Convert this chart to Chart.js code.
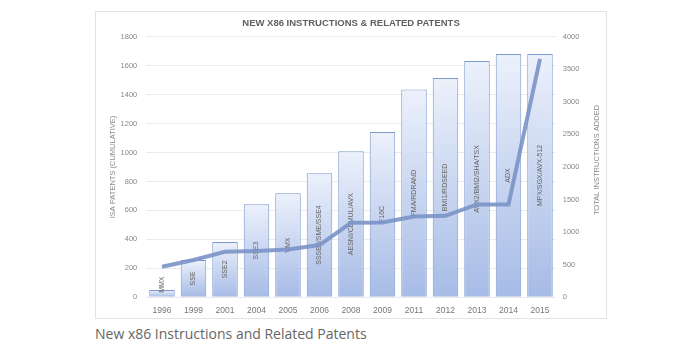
<!DOCTYPE html>
<html>
<head>
<meta charset="utf-8">
<script src="https://cdn.jsdelivr.net/npm/chart.js@4/dist/chart.umd.min.js"></script>
<style>
  html, body { margin: 0; padding: 0; background: #fff; width: 700px; height: 357px; overflow: hidden; }
  #box { position: absolute; left: 95px; top: 11px; width: 510px; height: 306px; border: 1px solid #e3e3e3; }
  #box canvas { display: block; }
  #caption { position: absolute; left: 95px; top: 324px; font-family: "Open Sans", sans-serif; font-size: 14px; color: #666; white-space: nowrap; }
</style>
</head>
<body>
<div id="box"><canvas id="c" width="510" height="306"></canvas></div>
<div id="caption">New x86 Instructions and Related Patents</div>
<script>
const years = ["1996","1999","2001","2004","2005","2006","2008","2009","2011","2012","2013","2014","2015"];
const extensions = ["MMX","SSE","SSE2","SSE3","VMX","SSSE3/SME/SSE4","AESNI/CLMUL/AVX","F16C","FMA/RDRAND","BMI1/RDSEED","AVX2/BMI2/SHA/TSX","ADX","MPX/SGX/AVX-512"];
const isaPatents = [50, 257, 382, 642, 718, 857, 1008, 1142, 1436, 1514, 1632, 1680, 1680];
const totalInstructions = [470, 572, 700, 710, 733, 802, 1144, 1150, 1240, 1250, 1426, 1426, 3660];
const leftTicks = [0, 200, 400, 600, 800, 1000, 1200, 1400, 1600, 1800];
const rightTicks = [0, 500, 1000, 1500, 2000, 2500, 3000, 3500, 4000];

const FONT = "'Liberation Sans', Arial, sans-serif";

function barFill(ctx) {
  const chart = ctx.chart;
  const y = chart.scales.y;
  if (!y || ctx.type !== 'data') return '#c4d3f0';
  const top = y.getPixelForValue(ctx.raw);
  const base = y.getPixelForValue(0);
  if (!isFinite(top) || !isFinite(base) || base - top < 1) return '#c4d3f0';
  const g = chart.ctx.createLinearGradient(0, top, 0, base);
  g.addColorStop(0, '#ecf1fb');
  g.addColorStop(1, '#a6bbe6');
  return g;
}

const textPlugin = {
  id: 'textBits',
  afterDraw(chart) {
    const c = chart.ctx;
    const area = chart.chartArea;
    c.save();
    c.font = "bold 9.5px " + FONT;
    c.fillStyle = '#606060';
    c.textAlign = 'center';
    c.textBaseline = 'middle';
    c.fillText('NEW X86 INSTRUCTIONS & RELATED PATENTS', 255, 11.5);
    // right axis title, reading bottom-to-top
    c.font = "7.5px " + FONT;
    c.fillStyle = '#8a8a8a';
    c.translate(501, (area.top + area.bottom) / 2 - 7);
    c.rotate(-Math.PI / 2);
    c.fillText('TOTAL INSTRUCTIONS ADDED', 0, 0);
    c.restore();
  }
};

const barLabelPlugin = {
  id: 'barLabels',
  afterDatasetDraw(chart, args) {
    if (args.index !== 1) return;
    const meta = args.meta;
    const c = chart.ctx;
    c.save();
    c.font = "7px " + FONT;
    c.fillStyle = '#666';
    c.textAlign = 'center';
    c.textBaseline = 'middle';
    meta.data.forEach((el, i) => {
      const txt = extensions[i];
      const w = c.measureText(txt).width;
      const h = el.base - el.y;
      let cy = (el.y + el.base) / 2;
      if (w + 6 > h) cy = el.base - 4 - w / 2;
      c.save();
      c.translate(el.x, cy);
      c.rotate(-Math.PI / 2);
      c.fillText(txt, 0, 0);
      c.restore();
    });
    c.restore();
  }
};

new Chart(document.getElementById('c'), {
  data: {
    labels: years,
    datasets: [
      {
        type: 'line',
        label: 'Total instructions added',
        data: totalInstructions,
        yAxisID: 'y1',
        borderColor: 'rgba(122,148,199,0.9)',
        borderWidth: 4,
        pointRadius: 0,
        tension: 0,
        order: 0
      },
      {
        type: 'bar',
        label: 'ISA patents (cumulative)',
        data: isaPatents,
        yAxisID: 'y',
        backgroundColor: barFill,
        borderColor: '#7d98cf',
        borderWidth: 1,
        barPercentage: 0.81,
        categoryPercentage: 1.0,
        order: 1
      }
    ]
  },
  options: {
    responsive: false,
    animation: false,
    layout: { padding: { top: 24.7, left: 0, right: 0, bottom: 0 } },
    plugins: { legend: { display: false }, tooltip: { enabled: false }, title: { display: false } },
    scales: {
      x: {
        grid: { display: false, drawTicks: false },
        border: { display: false },
        ticks: { color: '#777', font: { family: FONT, size: 8.5 }, padding: 8, maxRotation: 0 },
        afterFit(s) { s.height = 20.7; }
      },
      y: {
        position: 'left',
        min: 0, max: 1800,
        afterBuildTicks(s) { s.ticks = leftTicks.map(v => ({ value: v })); },
        grid: { color: '#ebebeb', lineWidth: 1, drawTicks: false },
        border: { display: false },
        ticks: { color: '#888', font: { family: FONT, size: 7.5 }, padding: 9, callback: v => String(v) },
        title: { display: true, text: 'ISA PATENTS (CUMULATIVE)', color: '#8a8a8a', font: { family: FONT, size: 7.5 }, padding: { top: 12, bottom: 0 } },
        afterFit(s) { s.width = 50.25; }
      },
      y1: {
        position: 'right',
        min: 0, max: 4000,
        afterBuildTicks(s) { s.ticks = rightTicks.map(v => ({ value: v })); },
        grid: { display: false, drawTicks: false },
        border: { display: false },
        ticks: { color: '#888', font: { family: FONT, size: 7.5 }, padding: 7, callback: v => String(v) },
        afterFit(s) { s.width = 50.25; }
      }
    }
  },
  plugins: [textPlugin, barLabelPlugin]
});
</script>
</body>
</html>
